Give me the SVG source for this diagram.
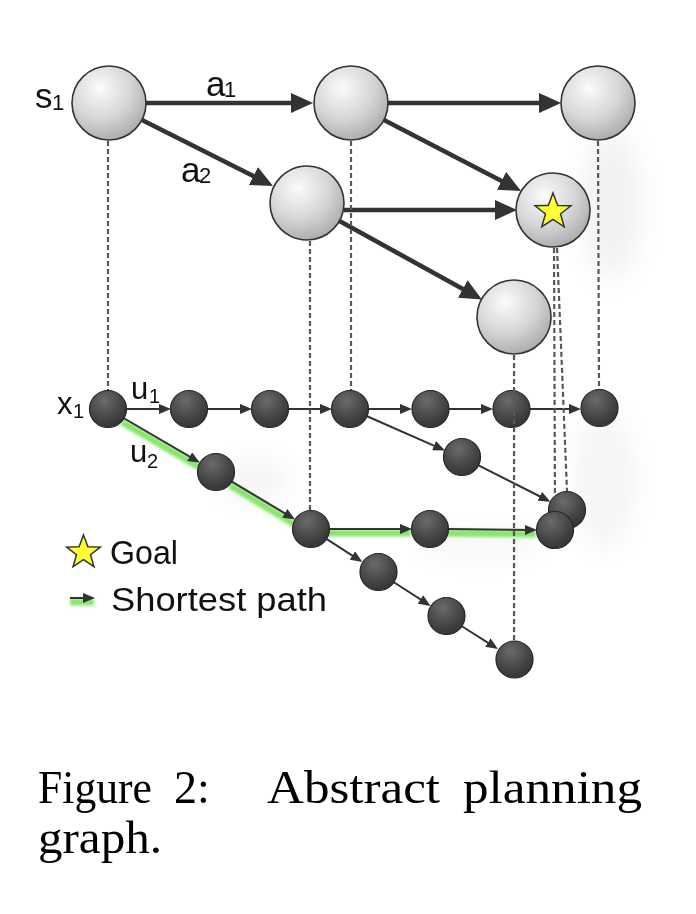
<svg xmlns="http://www.w3.org/2000/svg" width="696" height="914" viewBox="0 0 696 914">
<defs>
  <radialGradient id="gLight" cx="38%" cy="30%" r="75%">
    <stop offset="0" stop-color="#fbfbfb"/>
    <stop offset="0.55" stop-color="#d6d6d6"/>
    <stop offset="1" stop-color="#a9a9a9"/>
  </radialGradient>
  <radialGradient id="gDark" cx="40%" cy="28%" r="75%">
    <stop offset="0" stop-color="#6b6b6b"/>
    <stop offset="0.6" stop-color="#474747"/>
    <stop offset="1" stop-color="#333333"/>
  </radialGradient>
  <filter id="blurGlow" filterUnits="userSpaceOnUse" x="0" y="0" width="696" height="914">
    <feGaussianBlur stdDeviation="1.6"/>
  </filter>
  <filter id="softShadow" filterUnits="userSpaceOnUse" x="0" y="0" width="696" height="914">
    <feGaussianBlur stdDeviation="12"/>
  </filter>
  <marker id="bigArrow" viewBox="0 0 22 20" markerWidth="22" markerHeight="20" refX="11" refY="10" orient="auto" markerUnits="userSpaceOnUse">
    <path d="M0,0 L22,10 L0,20 z" fill="#333"/>
  </marker>
  <marker id="smallArrow" viewBox="0 0 12 10" markerWidth="12" markerHeight="10" refX="6" refY="5" orient="auto" markerUnits="userSpaceOnUse">
    <path d="M0,0 L12,5 L0,10 z" fill="#333"/>
  </marker>
  <style>
    .light { fill: url(#gLight); stroke: #333; stroke-width: 1.6; }
    .dark { fill: url(#gDark); stroke: #262626; stroke-width: 1.2; }
    .big { stroke: #333; stroke-width: 4.5; fill: none; marker-end: url(#bigArrow); }
    .small { stroke: #333; stroke-width: 2; fill: none; marker-end: url(#smallArrow); }
    .glow { stroke: #72e052; stroke-width: 7; fill: none; opacity: 0.85; }
    .dash { stroke: #585858; stroke-width: 2.2; stroke-dasharray: 5 3; fill: none; }
    .lbl { font-family: "Liberation Sans", Arial, sans-serif; fill: #111; }
    .cap { font-family: "Liberation Serif", "Times New Roman", serif; font-size: 46px; fill: #000; }
    .star { fill: #ffff33; stroke: #333; stroke-width: 1.5; stroke-linejoin: miter; }
  </style>
</defs>
<rect width="696" height="914" fill="#ffffff"/>

<!-- soft shadows -->
<g id="shadows" fill="#000" filter="url(#softShadow)">
  <ellipse cx="612" cy="205" rx="30" ry="75" opacity="0.05"/>
  <ellipse cx="605" cy="480" rx="30" ry="70" opacity="0.04"/>
  <ellipse cx="255" cy="480" rx="35" ry="22" opacity="0.04"/>
  <ellipse cx="480" cy="545" rx="60" ry="15" opacity="0.03"/>
</g>

<!-- glow of shortest path -->
<g id="shortest-path-glow" transform="translate(-1,4)" filter="url(#blurGlow)">
  <line class="glow" x1="123" y1="418" x2="200" y2="463"/>
  <line class="glow" x1="231" y1="481" x2="295" y2="520"/>
  <line class="glow" x1="329" y1="529" x2="412" y2="529"/>
  <line class="glow" x1="448" y1="529" x2="537" y2="530"/>
  <line class="glow" x1="71" y1="598" x2="95" y2="598"/>
</g>

<g id="connectors">
  <!-- abstract level -->
  <line class="big" x1="146" y1="103" x2="302" y2="103"/>
  <line class="big" x1="388" y1="103" x2="550" y2="103"/>
  <line class="big" x1="142" y1="120" x2="263.2" y2="181"/>
  <line class="big" x1="384" y1="120" x2="511.3" y2="185.9"/>
  <line class="big" x1="344" y1="210" x2="506" y2="210"/>
  <line class="big" x1="339.5" y1="221" x2="472.4" y2="294.2"/>
  <!-- concrete level -->
  <line class="small" x1="126" y1="409" x2="165" y2="409"/>
  <line class="small" x1="208" y1="409" x2="246" y2="409"/>
  <line class="small" x1="289" y1="409" x2="326" y2="409"/>
  <line class="small" x1="368" y1="409" x2="406" y2="409"/>
  <line class="small" x1="449" y1="409" x2="487" y2="409"/>
  <line class="small" x1="530" y1="409" x2="575" y2="409"/>
  <line class="small" x1="123.5" y1="418" x2="194.8" y2="459.7"/>
  <line class="small" x1="231.4" y1="481.3" x2="289.9" y2="516.4"/>
  <line class="small" x1="329" y1="529" x2="406" y2="529"/>
  <line class="small" x1="448" y1="529" x2="531" y2="530"/>
  <line class="small" x1="366.5" y1="416" x2="439.5" y2="448.1"/>
  <line class="small" x1="478.5" y1="465.3" x2="545.1" y2="499"/>
  <line class="small" x1="326" y1="538.7" x2="357.4" y2="558.8"/>
  <line class="small" x1="393.5" y1="582" x2="425.5" y2="602.7"/>
  <line class="small" x1="461.5" y1="626" x2="492.9" y2="645.8"/>
  <!-- legend arrow -->
  <line class="small" x1="70" y1="598" x2="89" y2="598"/>
</g>

<!-- abstract nodes -->
<g id="s1"><circle class="light" cx="109" cy="103" r="37"/></g>
<g id="n2"><circle class="light" cx="351" cy="103" r="37"/></g>
<g id="n3"><circle class="light" cx="598" cy="103" r="37"/></g>
<g id="n4"><circle class="light" cx="307" cy="203" r="37"/></g>
<g id="goal">
  <circle class="light" cx="553" cy="210" r="37"/>
  <polygon class="star" points="553,193 557.7,205.5 570.9,205.8 560.5,214 564.2,226.8 553,219.3 541.8,226.8 545.5,214 535.1,205.8 548.3,205.5"/>
</g>
<g id="n6"><circle class="light" cx="514" cy="317" r="37"/></g>

<!-- concrete nodes -->
<g id="x1"><circle class="dark" cx="108" cy="409" r="18.5"/></g>
<g id="c2"><circle class="dark" cx="189" cy="409" r="18.5"/></g>
<g id="c3"><circle class="dark" cx="270" cy="409" r="18.5"/></g>
<g id="c4"><circle class="dark" cx="350" cy="409" r="18.5"/></g>
<g id="c5"><circle class="dark" cx="430.5" cy="409" r="18.5"/></g>
<g id="c6"><circle class="dark" cx="511.5" cy="409" r="18.5"/></g>
<g id="c7"><circle class="dark" cx="599.5" cy="408" r="18.5"/></g>
<g id="c8"><circle class="dark" cx="216" cy="472" r="18.5"/></g>
<g id="c9"><circle class="dark" cx="462" cy="457" r="18.5"/></g>
<g id="c10"><circle class="dark" cx="567" cy="510" r="18.5"/></g>
<g id="c11"><circle class="dark" cx="555" cy="530" r="18.5"/></g>
<g id="c12"><circle class="dark" cx="311" cy="529" r="18.5"/></g>
<g id="c13"><circle class="dark" cx="430" cy="529" r="18.5"/></g>
<g id="c14"><circle class="dark" cx="378.5" cy="572" r="18.5"/></g>
<g id="c15"><circle class="dark" cx="446.5" cy="616" r="18.5"/></g>
<g id="c16"><circle class="dark" cx="514.5" cy="659.5" r="18.5"/></g>

<!-- projections -->
<g id="projections">
  <line class="dash" x1="108" y1="141" x2="108" y2="390"/>
  <line class="dash" x1="351" y1="141" x2="351" y2="390"/>
  <line class="dash" x1="598" y1="141" x2="599" y2="389"/>
  <line class="dash" x1="310" y1="241" x2="310" y2="510"/>
  <line class="dash" x1="554" y1="248" x2="555" y2="511"/>
  <line class="dash" x1="557" y1="248" x2="567" y2="491"/>
  <line class="dash" x1="514" y1="355" x2="514" y2="641"/>
</g>

<!-- labels -->
<g id="labels">
  <text class="lbl" x="35" y="108" font-size="35">s</text>
  <text class="lbl" x="52" y="110" font-size="22">1</text>
  <text class="lbl" x="206" y="96" font-size="35">a</text>
  <text class="lbl" x="224" y="97" font-size="22">1</text>
  <text class="lbl" x="181" y="182" font-size="35">a</text>
  <text class="lbl" x="199" y="183" font-size="22">2</text>
  <text class="lbl" x="57" y="414" font-size="31">x</text>
  <text class="lbl" x="73" y="418" font-size="20">1</text>
  <text class="lbl" x="131" y="399" font-size="31">u</text>
  <text class="lbl" x="149" y="403" font-size="20">1</text>
  <text class="lbl" x="130" y="462" font-size="31">u</text>
  <text class="lbl" x="147" y="468" font-size="20">2</text>
</g>

<!-- legend -->
<g id="legend">
  <polygon class="star" points="83.5,535 87.9,546.8 100.3,547.1 90.5,554.7 94,566.7 83.5,559.7 73,566.7 76.5,554.7 66.7,547.1 79.1,546.8"/>
  <text class="lbl" x="110" y="564" font-size="34" textLength="68" lengthAdjust="spacingAndGlyphs">Goal</text>
  <text class="lbl" x="111" y="611" font-size="34" textLength="216" lengthAdjust="spacingAndGlyphs">Shortest path</text>
</g>

<!-- caption -->
<g id="caption">
  <text class="cap" x="38" y="803" textLength="114" lengthAdjust="spacingAndGlyphs">Figure</text>
  <text class="cap" x="174" y="803">2:</text>
  <text class="cap" x="267" y="803" textLength="173" lengthAdjust="spacingAndGlyphs">Abstract</text>
  <text class="cap" x="463" y="803" textLength="179" lengthAdjust="spacingAndGlyphs">planning</text>
  <text class="cap" x="38" y="853" textLength="124" lengthAdjust="spacingAndGlyphs">graph.</text>
</g>
</svg>
